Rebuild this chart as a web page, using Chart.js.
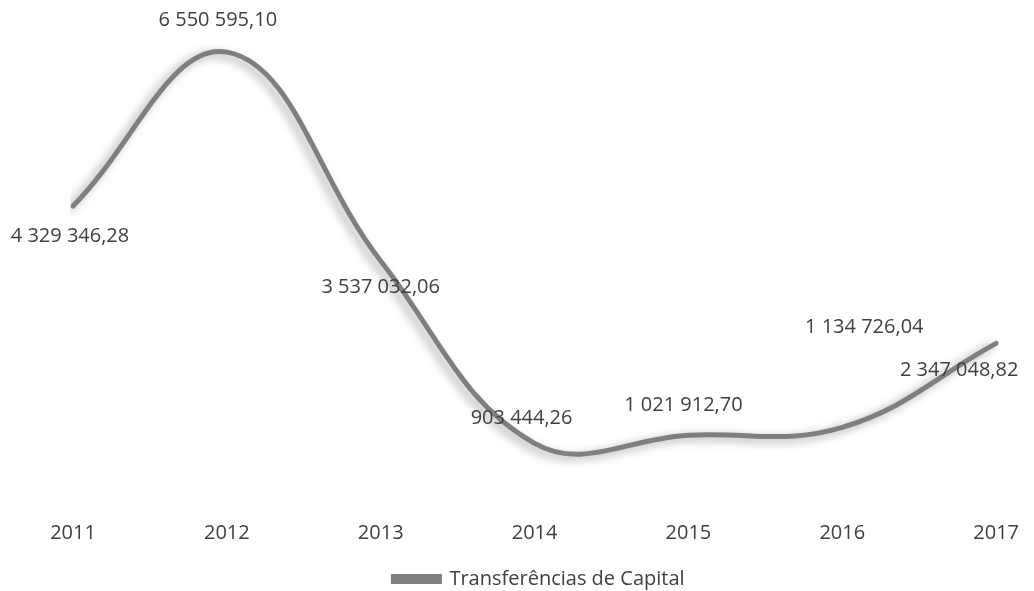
<!DOCTYPE html>
<html>
<head>
<meta charset="utf-8">
<script src="https://cdn.jsdelivr.net/npm/chart.js@4/dist/chart.umd.min.js"></script>
<style>
  html, body { margin: 0; padding: 0; background: #fff; }
  #wrap { width: 1034px; height: 591px; }
</style>
</head>
<body>
<div id="wrap"><canvas id="chart" width="1034" height="591"></canvas></div>
<script>
// Data
const years = ['2011', '2012', '2013', '2014', '2015', '2016', '2017'];
const transferencias = [4329346.28, 6550595.10, 3537032.06, 903444.26, 1021912.70, 1134726.04, 2347048.82];
const seriesLabel = 'Transferências de Capital';

// Where each value label sits relative to its point (px)
const labelOffsets = [[-3, 30], [-9, -32], [0, 26], [-13, -25], [-5, -30], [22, -100], [-37, 27]];

const lineColor = '#7f7f7f';
const textColor = '#404040';
const fontFamily = 'Open Sans, Lato, sans-serif';

// "6 550 595,10" style
function formatPt(v) {
  const parts = v.toFixed(2).split('.');
  const intPart = parts[0].replace(/\B(?=(\d{3})+(?!\d))/g, ' ');
  return intPart + ',' + parts[1];
}

// Soft shadow under the line
const shadowPlugin = {
  id: 'lineShadow',
  beforeDatasetDraw(chart) {
    const ctx = chart.ctx;
    ctx.save();
    ctx.shadowColor = 'rgba(0,0,0,0.35)';
    ctx.shadowBlur = 10;
    ctx.shadowOffsetX = -5;
    ctx.shadowOffsetY = 3;
  },
  afterDatasetDraw(chart) {
    chart.ctx.restore();
  }
};

// Value labels
const valueLabels = {
  id: 'valueLabels',
  afterDatasetsDraw(chart) {
    const ctx = chart.ctx;
    const meta = chart.getDatasetMeta(0);
    ctx.save();
    ctx.font = '20px ' + fontFamily;
    ctx.fillStyle = textColor;
    ctx.textAlign = 'center';
    ctx.textBaseline = 'middle';
    meta.data.forEach((pt, i) => {
      const off = labelOffsets[i];
      ctx.fillText(formatPt(transferencias[i]), pt.x + off[0], pt.y + off[1]);
    });
    ctx.restore();
  }
};

const ctx = document.getElementById('chart').getContext('2d');
new Chart(ctx, {
  type: 'line',
  data: {
    labels: years,
    datasets: [{
      label: seriesLabel,
      data: transferencias,
      borderColor: lineColor,
      backgroundColor: lineColor,
      borderWidth: 5,
      borderCapStyle: 'round',
      tension: 0.4,
      pointRadius: 0,
      fill: false
    }]
  },
  options: {
    responsive: false,
    animation: false,
    layout: { padding: { left: 73, right: 29, top: 21, bottom: -8 } },
    plugins: {
      legend: {
        position: 'bottom',
        labels: {
          color: textColor,
          font: { family: fontFamily, size: 20 },
          boxWidth: 46,
          boxHeight: 5,
          padding: 1
        }
      },
      tooltip: { enabled: false }
    },
    scales: {
      x: {
        offset: false,
        grid: { display: false, drawTicks: false },
        border: { display: false },
        ticks: {
          color: textColor,
          font: { family: fontFamily, size: 20 },
          padding: 15,
          maxRotation: 0
        },
        afterFit(scale) { scale.height += 8; }
      },
      y: {
        display: false,
        min: 0,
        max: 7000000
      }
    }
  },
  plugins: [shadowPlugin, valueLabels]
});
</script>
</body>
</html>
